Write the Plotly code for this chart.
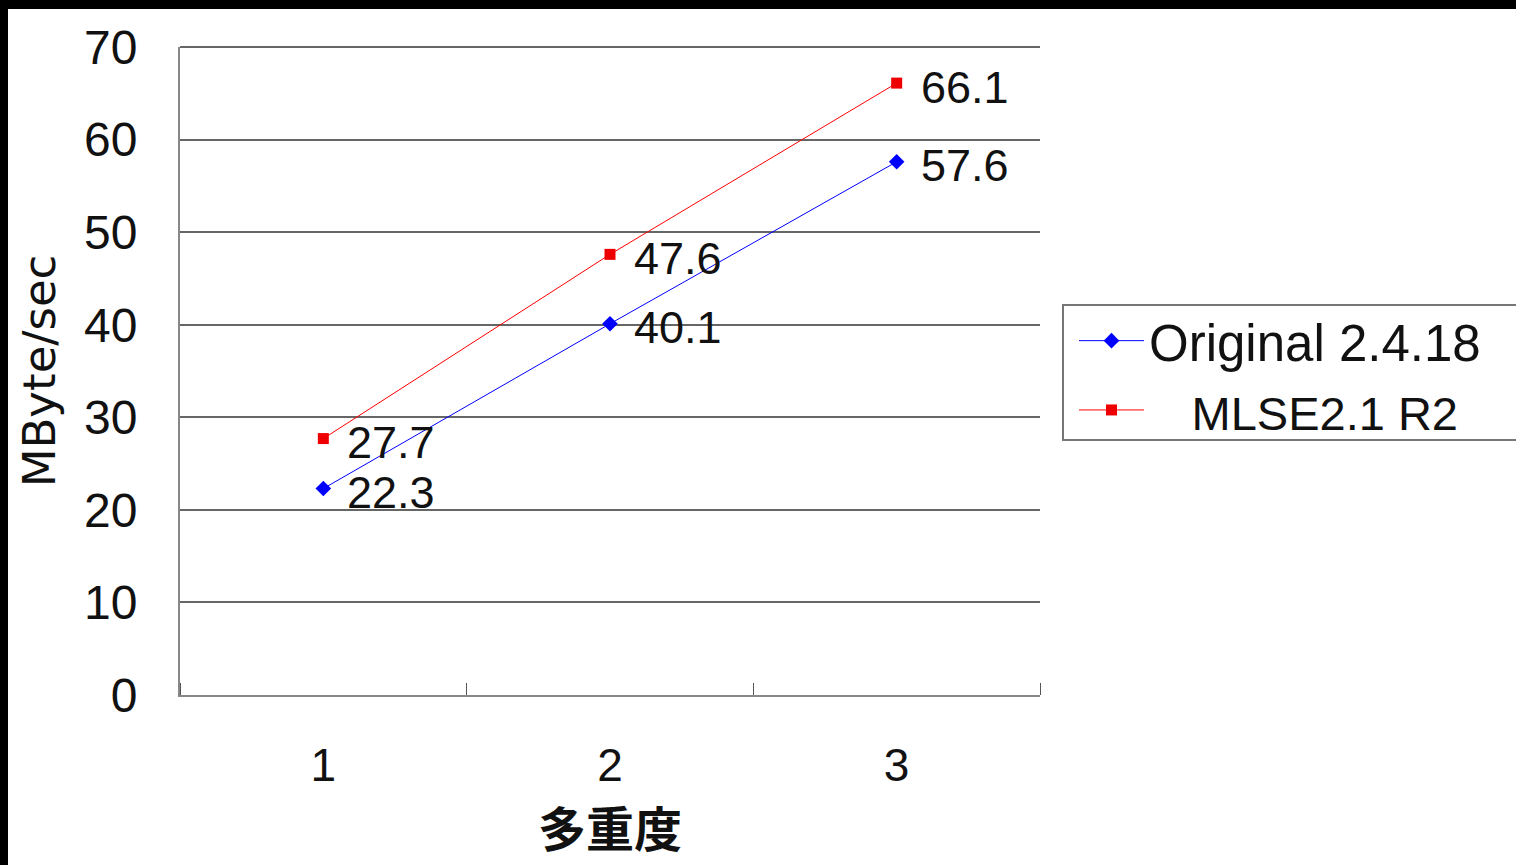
import plotly.graph_objects as go

# Throughput by multiplicity level
multiplicity = [1, 2, 3]
original_2418 = [22.3, 40.1, 57.6]
mlse21_r2 = [27.7, 47.6, 66.1]
y_ticks = [0, 10, 20, 30, 40, 50, 60, 70]

W, H = 1516, 865
L, R, T, B = 180, 1040, 47, 695   # plot area in pixels


def px_x(p):
    return (p - L) / (R - L)


def px_y(p):
    return (B - p) / (B - T)


FONT = "Liberation Sans"

fig = go.Figure()
fig.add_trace(go.Scatter(
    x=multiplicity, y=original_2418, mode="lines+markers",
    name="Original 2.4.18", legendgroup="a",
    line=dict(color="#0000ff", width=1),
    marker=dict(symbol="diamond", size=12, color="#0000ff"),
))
fig.add_trace(go.Scatter(
    x=multiplicity, y=mlse21_r2, mode="lines+markers",
    name="\u00a0\u00a0\u00a0<span style='font-size:47px'>MLSE2.1 R2</span>",
    legendgroup="b",
    line=dict(color="#ff0000", width=1),
    marker=dict(symbol="square", size=11, color="#ee0000"),
))

# value labels to the right of each marker
annotations = []
for xs, ys in ((multiplicity, original_2418), (multiplicity, mlse21_r2)):
    for xv, yv in zip(xs, ys):
        annotations.append(dict(
            x=xv, y=yv, text=f"{yv:.1f}", showarrow=False,
            xanchor="left", yanchor="middle", xshift=22, yshift=-4,
            font=dict(family=FONT, size=45, color="#111"),
        ))

shapes = [
    # top edge of the plot frame at 70
    dict(type="line", xref="paper", yref="paper",
         x0=0, x1=1, y0=1, y1=1, line=dict(color="#666", width=2)),
    # legend frame, running off the right edge
    dict(type="rect", xref="paper", yref="paper",
         x0=px_x(1063), x1=px_x(1540), y0=px_y(440), y1=px_y(305),
         line=dict(color="#777", width=2), fillcolor="rgba(0,0,0,0)"),
    # black edges along the top and left
    dict(type="rect", xref="paper", yref="paper",
         x0=px_x(-5), x1=px_x(W + 5), y0=px_y(9), y1=px_y(-5),
         line=dict(width=0), fillcolor="black", layer="above"),
    dict(type="rect", xref="paper", yref="paper",
         x0=px_x(-5), x1=px_x(8), y0=px_y(H + 5), y1=px_y(-5),
         line=dict(width=0), fillcolor="black", layer="above"),
]

fig.update_layout(
    width=W, height=H,
    margin=dict(l=L, r=W - R, t=T, b=H - B, pad=0, autoexpand=False),
    paper_bgcolor="white", plot_bgcolor="white",
    font=dict(family=FONT, size=48, color="#111"),
    showlegend=True,
    legend=dict(
        x=px_x(1074), y=px_y(301), xanchor="left", yanchor="top",
        bgcolor="rgba(0,0,0,0)", borderwidth=0,
        font=dict(family=FONT, size=51, color="#111"),
        itemwidth=65, tracegroupgap=0,
    ),
    annotations=annotations,
    shapes=shapes,
    xaxis=dict(
        range=[0.5, 3.5], tickvals=multiplicity,
        ticktext=[str(v) for v in multiplicity],
        ticks="", showgrid=False, zeroline=False, automargin=False,
        showline=True, linecolor="#888", linewidth=2,
        ticklabelstandoff=29,
        tickfont=dict(family=FONT, size=46),
        minor=dict(tick0=0.5, dtick=1, ticks="inside", ticklen=12,
                   tickcolor="#555", tickwidth=1, showgrid=False),
        title=dict(text="多重度", standoff=20,
                   font=dict(family="Noto Sans CJK JP", size=48,
                             weight="bold", color="#111")),
    ),
    yaxis=dict(
        range=[0, 70], tickvals=y_ticks, ticks="",
        showgrid=True, gridcolor="#666", gridwidth=2, zeroline=False,
        automargin=False,
        showline=True, linecolor="#888", linewidth=2,
        ticklabelstandoff=31,
        tickfont=dict(family=FONT, size=48),
        title=dict(text="MByte/sec", standoff=14,
                   font=dict(family="DejaVu Sans", size=45, color="#111")),
    ),
)

fig.write_html("out.html")
